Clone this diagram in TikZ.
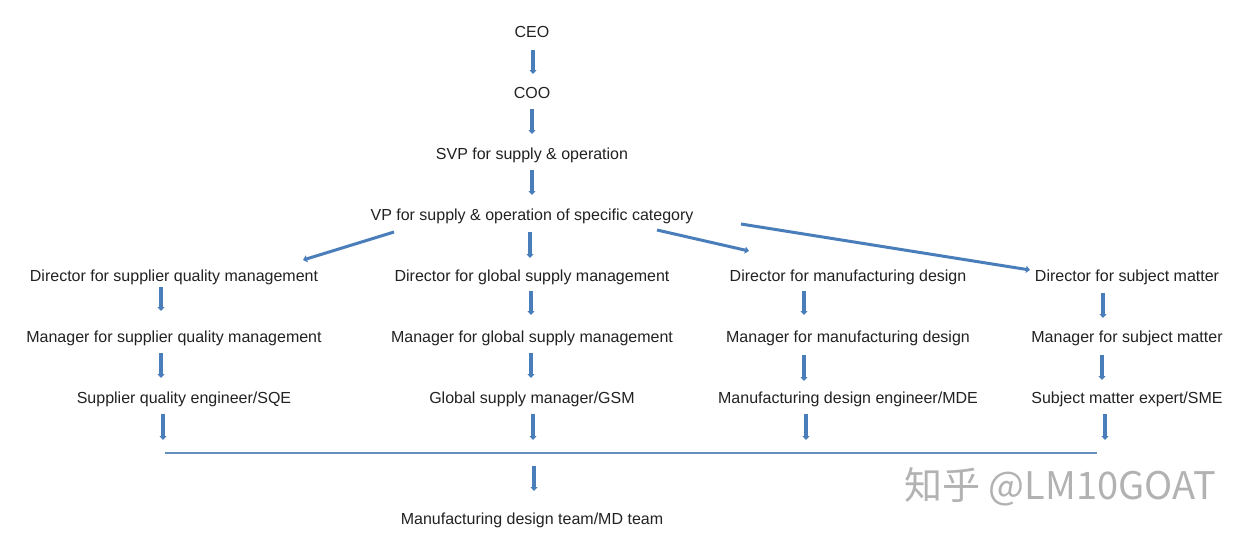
\documentclass[tikz,border=0pt]{standalone}
\usepackage{fontspec}
\setmainfont{Liberation Sans}
\newfontfamily\cjkwm{Noto Sans CJK SC}
\usetikzlibrary{arrows.meta}
\definecolor{arrowblue}{RGB}{74,126,187}
\definecolor{barblue}{RGB}{98,142,192}
\definecolor{txt}{RGB}{34,34,34}
\tikzset{
  lbl/.style={font=\fontsize{16pt}{18pt}\selectfont, text=txt, inner sep=0pt, anchor=center, text height=12pt, text depth=0pt},
  arr/.style={draw=arrowblue, line width=3.4pt, -{Triangle[width=7pt,length=4pt]}},
  darr/.style={draw=arrowblue, line width=3pt, -{Triangle[width=7pt,length=4pt]}},
  bar/.style={draw=barblue, line width=2pt},
  wm/.style={font=\cjkwm\fontsize{38pt}{40pt}\selectfont, text=black!30, inner sep=0pt}
}
\begin{document}
\begin{tikzpicture}[x=1pt,y=-1pt]
\useasboundingbox (0,0) rectangle (1246,536);
\fill[white] (0,0) rectangle (1246,536);

\node[lbl] (ceo) at (532,31) {CEO};
\node[lbl] (coo) at (532,92) {COO};
\node[lbl] (svp) at (532,153) {SVP for supply \& operation};
\node[lbl] (vp) at (532,214) {VP for supply \& operation of specific category};

\node[lbl] (dsqm) at (174,275) {Director for supplier quality management};
\node[lbl] (dgsm) at (532,275) {Director for global supply management};
\node[lbl] (dmd) at (848,275) {Director for manufacturing design};
\node[lbl] (dsm) at (1127,275) {Director for subject matter};

\node[lbl] (msqm) at (174,336) {Manager for supplier quality management};
\node[lbl] (mgsm) at (532,336) {Manager for global supply management};
\node[lbl] (mmd) at (848,336) {Manager for manufacturing design};
\node[lbl] (msm) at (1127,336) {Manager for subject matter};

\node[lbl] (esqm) at (184,397) {Supplier quality engineer/SQE};
\node[lbl] (egsm) at (532,397) {Global supply manager/GSM};
\node[lbl] (emd) at (848,397) {Manufacturing design engineer/MDE};
\node[lbl] (esm) at (1127,397) {Subject matter expert/SME};

\node[lbl] (team) at (532,518) {Manufacturing design team/MD team};

\coordinate (barL) at (165,453);
\coordinate (barR) at (1097,453);
\coordinate (b1) at (163,453);
\coordinate (b2) at (533,453);
\coordinate (b3) at (806,453);
\coordinate (b4) at (1105,453);

% top chain
\draw[arr] ([shift={(1,19)}]ceo.center) -- ([shift={(1,-18)}]coo.center);
\draw[arr] ([shift={(0,17)}]coo.center) -- ([shift={(0,-19)}]svp.center);
\draw[arr] ([shift={(0,17)}]svp.center) -- ([shift={(0,-19)}]vp.center);

% VP to directors
\draw[arr] ([shift={(-2,18)}]vp.center) -- ([shift={(-2,-17)}]dgsm.center);
\draw[darr] ([shift={(-138,18)}]vp.center) -- ([shift={(129,-15)}]dsqm.center);
\draw[darr] ([shift={(125,16)}]vp.center) -- ([shift={(-99,-24)}]dmd.center);
\draw[darr] ([shift={(209,10)}]vp.center) -- ([shift={(-97,-5)}]dsm.center);

% directors to managers
\draw[arr] ([shift={(-13,12)}]dsqm.center) -- ([shift={(-13,-25)}]msqm.center);
\draw[arr] ([shift={(-1,16)}]dgsm.center) -- ([shift={(-1,-21)}]mgsm.center);
\draw[arr] ([shift={(-44,16)}]dmd.center) -- ([shift={(-44,-21)}]mmd.center);
\draw[arr] ([shift={(-24,18)}]dsm.center) -- ([shift={(-24,-18)}]msm.center);

% managers to engineers
\draw[arr] ([shift={(-13,17)}]msqm.center) -- ([shift={(-23,-19)}]esqm.center);
\draw[arr] ([shift={(-1,17)}]mgsm.center) -- ([shift={(-1,-19)}]egsm.center);
\draw[arr] ([shift={(-44,19)}]mmd.center) -- ([shift={(-44,-16)}]emd.center);
\draw[arr] ([shift={(-25,19)}]msm.center) -- ([shift={(-25,-17)}]esm.center);

% engineers to bar
\draw[arr] ([shift={(-21,17)}]esqm.center) -- ([shift={(0,-13)}]b1);
\draw[arr] ([shift={(1,17)}]egsm.center) -- ([shift={(0,-13)}]b2);
\draw[arr] ([shift={(-42,17)}]emd.center) -- ([shift={(0,-13)}]b3);
\draw[arr] ([shift={(-22,17)}]esm.center) -- ([shift={(0,-13)}]b4);

% bar
\draw[bar] (barL) -- (barR);

% bar to team
\draw[arr] ([shift={(1,13)}]b2) -- ([shift={(2,-27)}]team.center);

% watermark
\node[wm] (wmark) at (1060,487) {知乎 @LM10GOAT};
\end{tikzpicture}
\end{document}
